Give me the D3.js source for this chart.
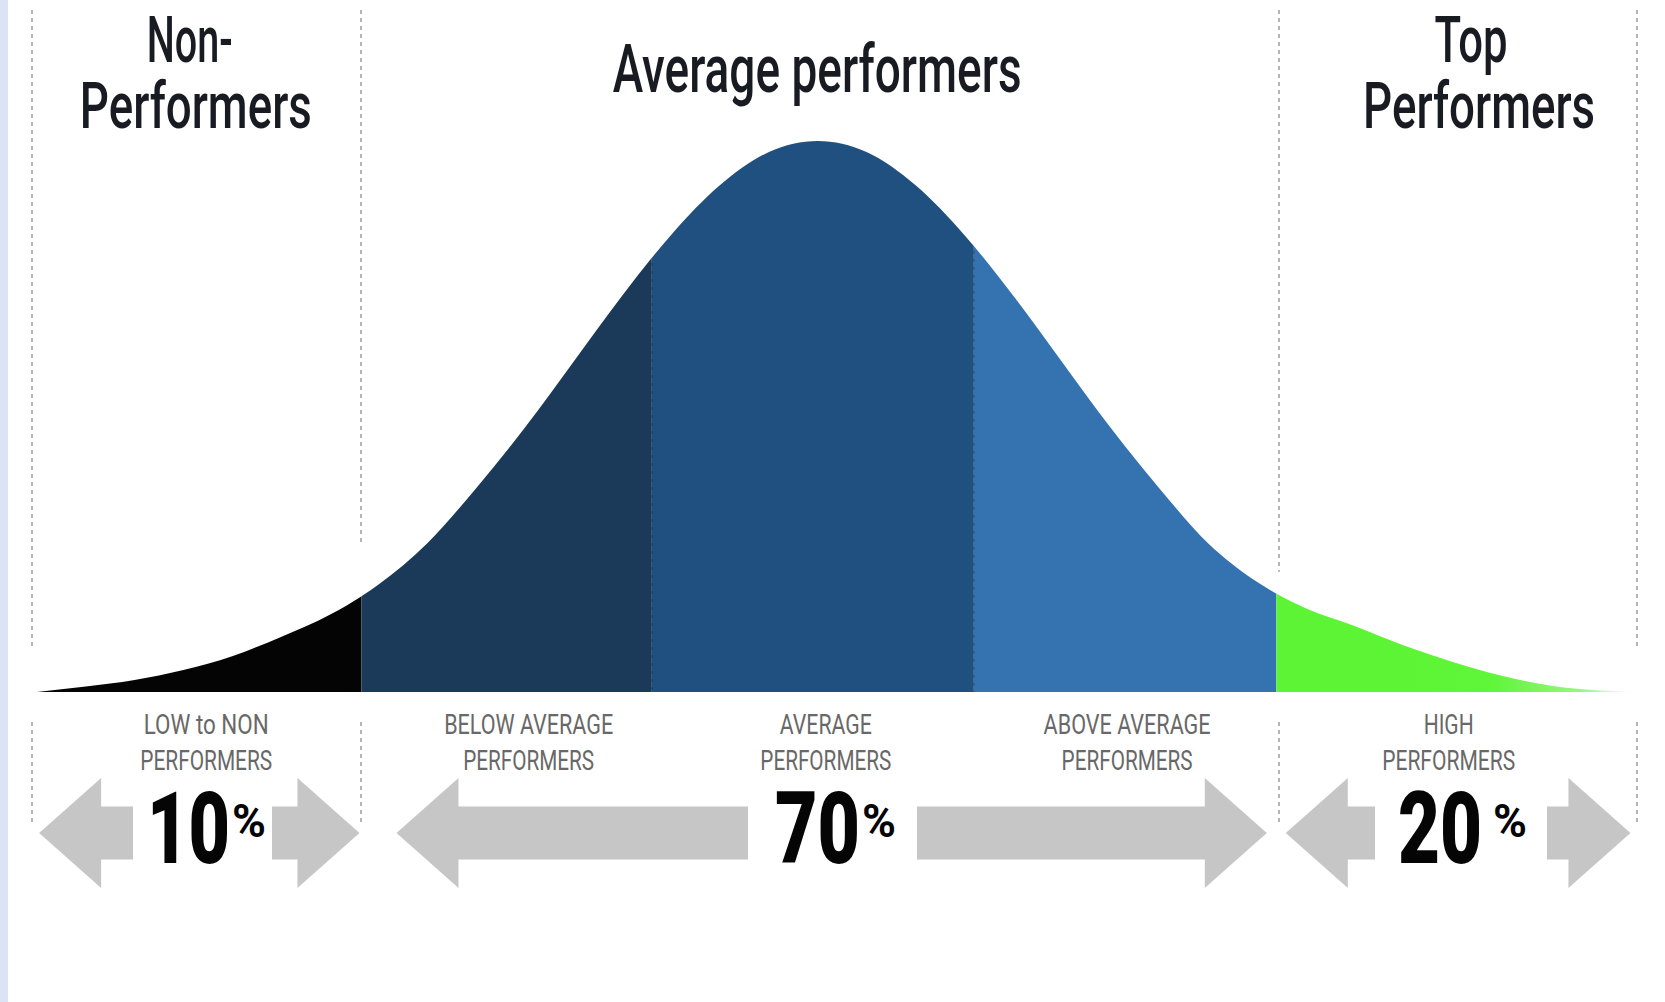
<!DOCTYPE html>
<html><head><meta charset="utf-8">
<script src="https://cdn.jsdelivr.net/npm/d3@7"></script>
<style>
html,body{margin:0;padding:0;background:#fff;overflow:hidden}
svg{display:block}
</style></head><body>
<svg id="chart" width="1665" height="1002"></svg>
<script>
// Performance score, in standard deviations from the mean
const scoreZ = [-3.2,-3.0,-2.8,-2.6,-2.4,-2.2,-2.0,-1.8,-1.6,-1.4,-1.2,-1.0,-0.8,-0.6,-0.4,-0.2,0,
                0.2,0.4,0.6,0.8,1.0,1.2,1.4,1.6,1.8,2.0,2.2,2.4,2.6,2.8,3.0,3.2,3.35];
// Relative share of people at each score (peak = 1)
const relDensity = [0.00,0.01,0.022,0.04,0.065,0.10,0.14,0.195,0.27,0.37,0.48,0.60,0.72,0.83,0.92,0.98,1.00,
                    0.98,0.92,0.83,0.72,0.60,0.48,0.37,0.27,0.20,0.152,0.12,0.085,0.055,0.03,0.012,0.003,0.00];

// Five performance bands (score boundaries) and their labels
const bandEdges = [-3.2,-1.87,-0.68,0.64,1.88,3.35];
const bandLabels = [["LOW to NON","PERFORMERS"],["BELOW AVERAGE","PERFORMERS"],["AVERAGE","PERFORMERS"],
                    ["ABOVE AVERAGE","PERFORMERS"],["HIGH","PERFORMERS"]];

// Three groups, their share of the workforce and score boundaries
const groupTitles = [["Non-","Performers"],["Average performers"],["Top","Performers"]];
const groupShare = [10,70,20];
const groupEdges = [-3.22,-1.87,1.89,3.36];

// ---- styling / layout ----
const bandFill = ["#040404","#1b3a5a","#20507f","#3572b0","url(#greenTail)"];
const W = 1665, H = 1002;
const svg = d3.select("#chart");
const x = d3.scaleLinear().domain([bandEdges[0], bandEdges[bandEdges.length-1]]).range([37,1635]);
const y = d3.scaleLinear().domain([0,1]).range([692,141]);

svg.append("rect").attr("width",W).attr("height",H).attr("fill","#ffffff");
svg.append("rect").attr("width",8).attr("height",H).attr("fill","#dce3f4");

const defs = svg.append("defs");
const g1 = defs.append("linearGradient").attr("id","greenTail")
  .attr("gradientUnits","userSpaceOnUse")
  .attr("x1",x(bandEdges[4])).attr("x2",x(bandEdges[5])).attr("y1",0).attr("y2",0);
[[0,"#5cf434"],[0.6,"#5ff538"],[0.85,"#9af582"],[1,"#ffffff"]].forEach(([o,c]) =>
  g1.append("stop").attr("offset",o).attr("stop-color",c));

const pts = scoreZ.map((z,i) => ({z, d: relDensity[i]}));
const area = d3.area().x(p => x(p.z)).y0(y(0)).y1(p => y(p.d)).curve(d3.curveMonotoneX);

// one clipped copy of the curve per band
bandFill.forEach((fill,i) => {
  defs.append("clipPath").attr("id","band"+i).append("rect")
    .attr("x", x(bandEdges[i])).attr("y", 0)
    .attr("width", x(bandEdges[i+1]) - x(bandEdges[i])).attr("height", y(0)+1);
  svg.append("path").datum(pts).attr("d", area).attr("fill", fill).attr("clip-path","url(#band"+i+")");
});

// linear lookup of the curve height at a score
const dens = z => {
  for (let i=1;i<scoreZ.length;i++) if (z<=scoreZ[i]) {
    const t=(z-scoreZ[i-1])/(scoreZ[i]-scoreZ[i-1]); return relDensity[i-1]+t*(relDensity[i]-relDensity[i-1]);
  } return 0;
};
// faint dotted seams inside the blue part
[bandEdges[2], bandEdges[3]].forEach(z => {
  svg.append("line").attr("x1",x(z)).attr("x2",x(z)).attr("y1",y(dens(z))+4).attr("y2",y(0))
    .attr("stroke","rgba(0,0,0,0.18)").attr("stroke-width",2).attr("stroke-dasharray","3,5");
});

// dashed group dividers, upper and lower
const dashStyle = s => s.attr("stroke","#b4b4b4").attr("stroke-width",2).attr("stroke-dasharray","4,4");
const dividerGap = [null, 52, 22, null];
groupEdges.forEach((z,i) => {
  const gx = Math.round(x(z));
  const yEnd = dividerGap[i] === null ? 648 : y(dens(z)) - dividerGap[i];
  svg.append("line").attr("x1",gx).attr("x2",gx).attr("y1",10).attr("y2",yEnd).call(dashStyle);
  svg.append("line").attr("x1",gx).attr("x2",gx).attr("y1",722).attr("y2",823).call(dashStyle);
});

// group titles
const titleFont = "Roboto, 'Liberation Sans', sans-serif";
const titleLayout = [
  {lines:[{dx:-7,base:62,len:86},{dx:-1,base:128,len:232}]},
  {lines:[{dx:-3,base:92,len:409,size:67}]},
  {lines:[{dx:13,base:62,len:73},{dx:21,base:128,len:232}]}
];
groupTitles.forEach((lines,gi) => {
  const cx = (x(groupEdges[gi]) + x(groupEdges[gi+1]))/2;
  lines.forEach((t,li) => {
    const L = titleLayout[gi].lines[li];
    svg.append("text").text(t)
      .attr("x", cx + L.dx).attr("y", L.base)
      .attr("text-anchor","middle")
      .attr("font-family", titleFont).attr("font-size", L.size || 64).attr("font-weight",500)
      .attr("fill","#181c22")
      .attr("textLength", L.len).attr("lengthAdjust","spacingAndGlyphs");
  });
});

// band labels under the curve
const bandLabelLayout = [
  {dx:7,  lens:[125,132]},
  {dx:22, lens:[169,131]},
  {dx:13, lens:[92,131]},
  {dx:2,  lens:[167,131]},
  {dx:-7, lens:[50,133]}
];
bandLabels.forEach((lines,i) => {
  const cx = (x(bandEdges[i]) + x(bandEdges[i+1]))/2 + bandLabelLayout[i].dx;
  lines.forEach((t,li) => {
    svg.append("text").text(t)
      .attr("x", cx).attr("y", li===0 ? 734 : 770)
      .attr("text-anchor","middle")
      .attr("font-family", titleFont).attr("font-size", 27)
      .attr("fill","#686868")
      .attr("textLength", bandLabelLayout[i].lens[li]).attr("lengthAdjust","spacingAndGlyphs");
  });
});

// share figures with double arrows
const cy = 833, headLen = 62, headHalf = 55, shaftHalf = 26.5;
function arrowPath(tail, tip) {
  const s = Math.sign(tip - tail), hb = tip - s*headLen;
  return `M${tail},${cy-shaftHalf}L${hb},${cy-shaftHalf}L${hb},${cy-headHalf}L${tip},${cy}` +
         `L${hb},${cy+headHalf}L${hb},${cy+shaftHalf}L${tail},${cy+shaftHalf}Z`;
}
const shareLayout = [
  {numX:147, numLen:83, tipIn:[7,-2],   pad:[14,6],  pctGap:2},
  {numX:775, numLen:85, tipIn:[35,-12], pad:[27,21], pctGap:2},
  {numX:1398,numLen:84, tipIn:[7,-7],   pad:[23,20], pctGap:11}
];
groupShare.forEach((v,i) => {
  const L = shareLayout[i];
  svg.append("text").text(v)
    .attr("x", L.numX).attr("y", 863)
    .attr("font-family","Roboto, 'Liberation Sans', sans-serif").attr("font-weight",900)
    .attr("font-size",101).attr("fill","#050505")
    .attr("textLength", L.numLen).attr("lengthAdjust","spacingAndGlyphs");
  const pctX = L.numX + L.numLen + L.pctGap;
  svg.append("text").text("%")
    .attr("x", pctX).attr("y", 837)
    .attr("font-family","Roboto, 'Liberation Sans', sans-serif").attr("font-weight",700)
    .attr("font-size",46).attr("fill","#050505")
    .attr("textLength", 34).attr("lengthAdjust","spacingAndGlyphs");
  const left = x(groupEdges[i]) + L.tipIn[0];
  const right = x(groupEdges[i+1]) + L.tipIn[1];
  const labelL = L.numX, labelR = pctX + 34;
  svg.append("path").attr("d", arrowPath(labelL - L.pad[0], left)).attr("fill","#c6c6c6");
  svg.append("path").attr("d", arrowPath(labelR + L.pad[1], right)).attr("fill","#c6c6c6");
});
</script>
</body></html>
